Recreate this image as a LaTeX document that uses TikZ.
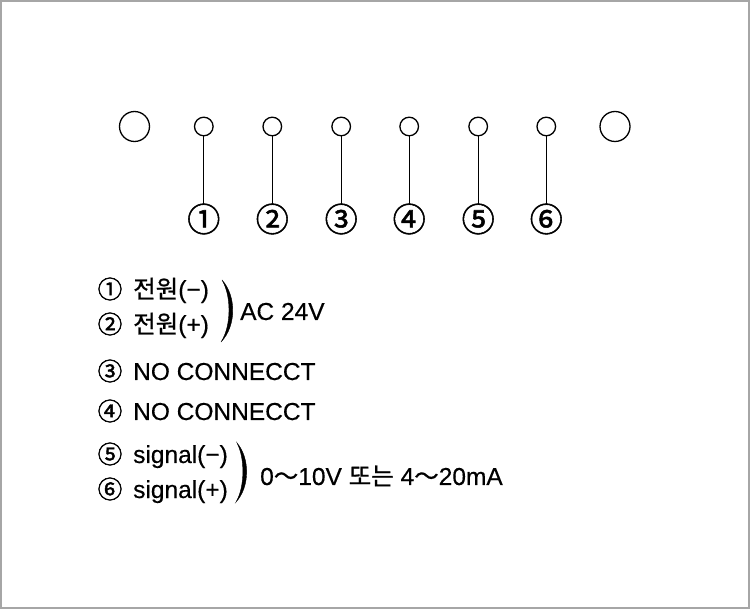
\documentclass[tikz,border=0pt]{standalone}
\usepackage{fontspec}
\setmainfont{Liberation Sans}[FakeBold=0.4,AutoFakeBold=0.4]
\newfontfamily\kr{Noto Sans CJK KR}[FakeBold=0.8,AutoFakeBold=0.8]
\newfontfamily\krn{Noto Sans CJK KR}[FakeBold=1.6,AutoFakeBold=1.6]
\begin{document}
\begin{tikzpicture}[x=1pt,y=-1pt,
  frame/.style={draw=black!35,line width=2pt,fill=white},
  bigpin/.style={circle,draw,line width=1.3pt,minimum size=30pt,inner sep=0pt},
  pin/.style={circle,draw,line width=1.3pt,minimum size=18.6pt,inner sep=0pt},
  num/.style={inner sep=0pt,font=\krn\bfseries\fontsize{33}{33}\selectfont},
  wire/.style={line width=1.3pt},
  idx/.style={inner sep=0pt,font=\krn\bfseries\fontsize{24.5}{24.5}\selectfont},
  lbl/.style={inner sep=0pt,anchor=base west,font=\bfseries\fontsize{24.5}{24.5}\selectfont},
  brace/.style={fill=black,draw=black,line width=0.4pt}]
\path[frame] (1,1) rectangle (749,608);
\useasboundingbox (0,0) rectangle (750,609);
\node[bigpin] (L) at (134.5,126.5) {};
\node[bigpin] (R) at (615,126.5) {};
\foreach \i/\x/\g in {1/203.8/①,2/272.3/②,3/341.2/③,4/409.2/④,5/478.2/⑤,6/546.3/⑥}{
  \node[pin] (p\i) at (\x,126.5) {};
  \node[num] (n\i) at (\x,219) {\g};
  \coordinate (c\i) at ([yshift=13.5pt]n\i.center);
  \draw[wire] (p\i.south) -- (c\i);
}
% legend
\node[idx] (i1) at (110,289) {①};
\node[idx] (i2) at (110,324) {②};
\node[idx] (i3) at (110,371) {③};
\node[idx] (i4) at (110,411) {④};
\node[idx] (i5) at (110,454) {⑤};
\node[idx] (i6) at (110,489) {⑥};
\node[lbl] (t1) at (133,298) {{\kr\bfseries 전원}(−)};
\node[lbl] (t2) at (133,333) {{\kr\bfseries 전원}(+)};
\node[lbl] (t3) at (133,380) {NO CONNECCT};
\node[lbl] (t4) at (133,420) {NO CONNECCT};
\node[lbl] (t5) at (133,463) {signal(−)};
\node[lbl] (t6) at (133,498) {signal(+)};
\coordinate (b1t) at (222,280);
\coordinate (b1b) at (221,342);
\path[brace] (b1t) .. controls (236.5,296) and (236.5,326) .. (b1b)
  .. controls (231.5,326) and (231.5,296) .. (b1t) -- cycle;
\node[lbl] (ac) at (240,320) {AC 24V};
\coordinate (b2t) at (237,443);
\coordinate (b2b) at (236,502);
\path[brace] (b2t) .. controls (250,458) and (250,487) .. (b2b)
  .. controls (245,487) and (245,458) .. (b2t) -- cycle;
\node[lbl] (sig) at (260,485) {0{\kr\bfseries ～}10V {\kr\bfseries 또는} 4{\kr\bfseries ～}20mA};
\end{tikzpicture}
\end{document}
